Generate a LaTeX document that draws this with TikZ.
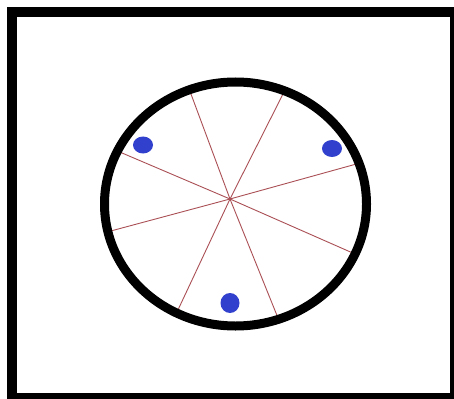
\documentclass[tikz,border=0pt]{standalone}
\begin{document}
\begin{tikzpicture}[x=1pt,y=-1pt,
  spoke/.style={draw=spokered,line width=0.9pt},
  rim/.style={draw=black,line width=9pt},
  frame/.style={draw=black,line width=10pt},
  dot/.style={fill=dotblue,draw=none}]
\definecolor{spokered}{RGB}{170,80,85}
\definecolor{dotblue}{RGB}{50,65,205}
\useasboundingbox (0,0) rectangle (454,398);
\fill[white] (0,0) rectangle (454,398);
\draw[frame] (12,12) rectangle (455,398);
\coordinate (c) at (230,199);
\coordinate (p1) at (188,86);
\coordinate (p2) at (285,90);
\coordinate (p3) at (360,163);
\coordinate (p4) at (355,254);
\coordinate (p5) at (278,318);
\coordinate (p6) at (177,312);
\coordinate (p7) at (107,232);
\coordinate (p8) at (115,150);
\foreach \p in {p1,p2,p3,p4,p5,p6,p7,p8} \draw[spoke] (c) -- (\p);
\draw[rim] (235.5,204) ellipse [x radius=131, y radius=122];
\fill[dot] (143,145) ellipse [x radius=10, y radius=8.5];
\fill[dot] (332,148.5) ellipse [x radius=10, y radius=8.5];
\fill[dot] (230,303) ellipse [x radius=9.5, y radius=10];
\end{tikzpicture}
\end{document}
